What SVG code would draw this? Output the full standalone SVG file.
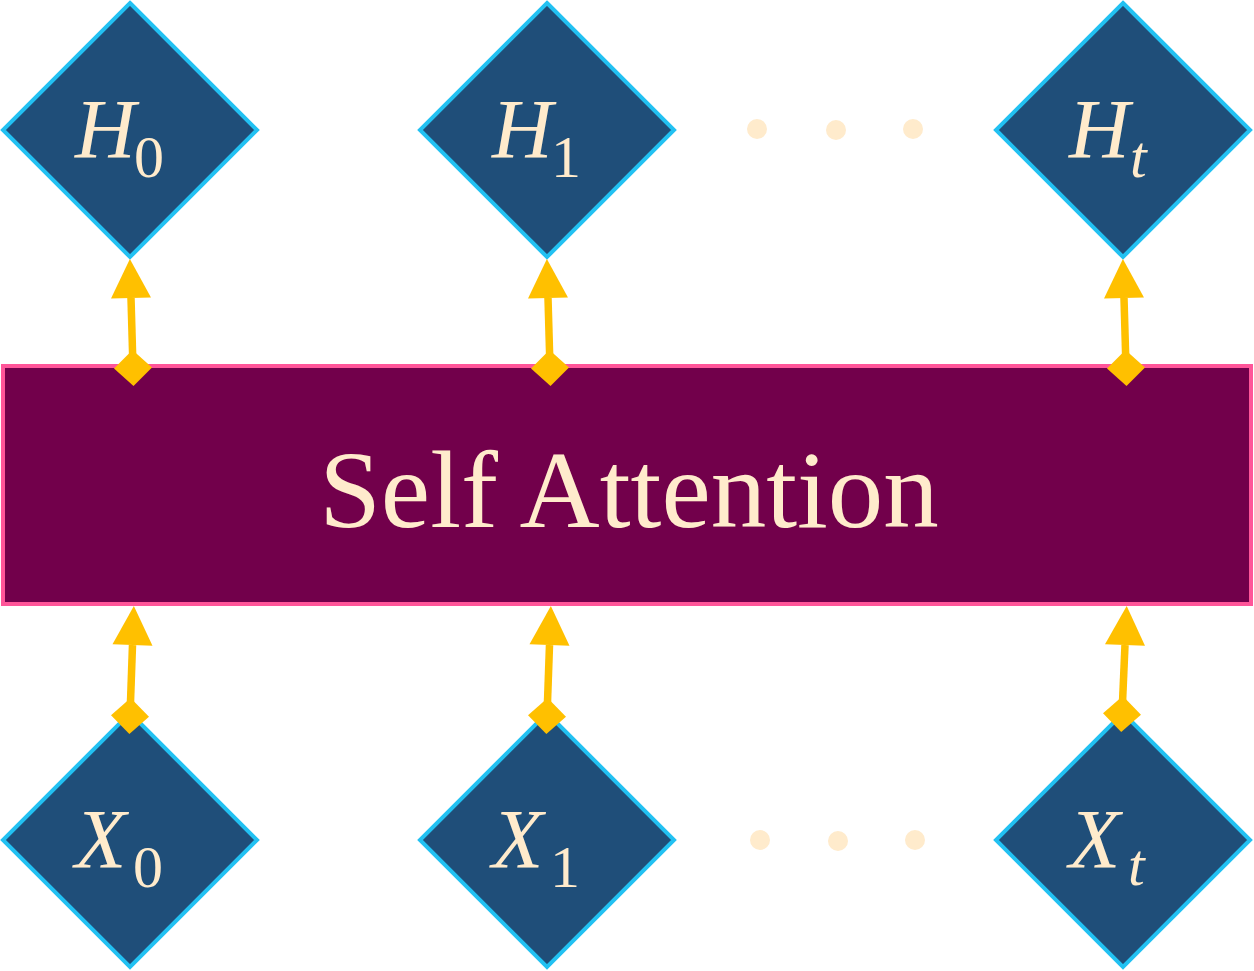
<svg xmlns="http://www.w3.org/2000/svg" width="1254" height="971" viewBox="0 0 1254 971">
<style>
.dia{fill:#1f4e79;stroke:#22c1f2;stroke-width:4}
.lbl{font-family:"Liberation Serif",serif;font-style:italic;font-size:84px;fill:#ffebcc}
.sub{font-family:"Liberation Serif",serif;font-size:60px;fill:#ffebcc}
.subi{font-family:"Liberation Serif",serif;font-style:italic;font-size:60px;fill:#ffebcc}
.dot{fill:#ffebcc}
.conn{stroke:#ffc000;stroke-width:7.5;fill:none;marker-start:url(#dm);marker-end:url(#ah)}
</style>
<defs>
<marker id="ah" markerUnits="userSpaceOnUse" orient="auto" markerWidth="40" markerHeight="42" viewBox="0 -21 40 42" refX="0" refY="0" overflow="visible">
<path d="M0,-20 L39,0 L0,20 Z" fill="#ffc000"/>
</marker>
<marker id="dm" markerUnits="userSpaceOnUse" orient="auto" markerWidth="40" markerHeight="40" viewBox="-20 -20 40 40" refX="0" refY="0" overflow="visible">
<path d="M-18,0 L0,-19 L18,0 L0,19 Z" fill="#ffc000"/>
</marker>
</defs>
<g id="self-attention">
<rect x="3" y="366" width="1248" height="238" fill="#72004b" stroke="#ff5599" stroke-width="4"/>
<text x="629" y="527" text-anchor="middle" font-family="Liberation Serif, serif" font-size="111" fill="#ffebcc">Self Attention</text>
</g>
<g id="H0">
<polygon class="dia" points="130,3 257,130 130,257 3,130"/>
<text class="lbl" x="75" y="158">H</text><text class="sub" x="134" y="177">0</text>
</g>
<g id="H1">
<polygon class="dia" points="547,3 674,130 547,257 420,130"/>
<text class="lbl" x="492" y="158">H</text><text class="sub" x="551" y="177">1</text>
</g>
<g id="Ht">
<polygon class="dia" points="1123,3 1250,130 1123,257 996,130"/>
<text class="lbl" x="1069" y="158">H</text><text class="subi" x="1130" y="177">t</text>
</g>
<g id="X0">
<polygon class="dia" points="130,713 257,840 130,967 3,840"/>
<text class="lbl" x="75" y="868">X</text><text class="sub" x="133" y="887">0</text>
</g>
<g id="X1">
<polygon class="dia" points="547,713 674,840 547,967 420,840"/>
<text class="lbl" x="492" y="868">X</text><text class="sub" x="550" y="887">1</text>
</g>
<g id="Xt">
<polygon class="dia" points="1123,713 1250,840 1123,967 996,840"/>
<text class="lbl" x="1069" y="868">X</text><text class="subi" x="1128" y="885">t</text>
</g>
<g id="dots-top">
<circle class="dot" cx="757" cy="129" r="10"/>
<circle class="dot" cx="836" cy="130" r="10"/>
<circle class="dot" cx="913" cy="129" r="10"/>
</g>
<g id="dots-bottom">
<circle class="dot" cx="760" cy="840" r="10"/>
<circle class="dot" cx="838" cy="841" r="10"/>
<circle class="dot" cx="915" cy="840" r="10"/>
</g>
<g id="connectors">
<path class="conn" d="M133,368 L131,298"/>
<path class="conn" d="M550,368 L548,298"/>
<path class="conn" d="M1126,368 L1124,298"/>
<path class="conn" d="M130,716 L132.5,645"/>
<path class="conn" d="M547,716 L549.5,645"/>
<path class="conn" d="M1122,714 L1125,645"/>
</g>
</svg>
